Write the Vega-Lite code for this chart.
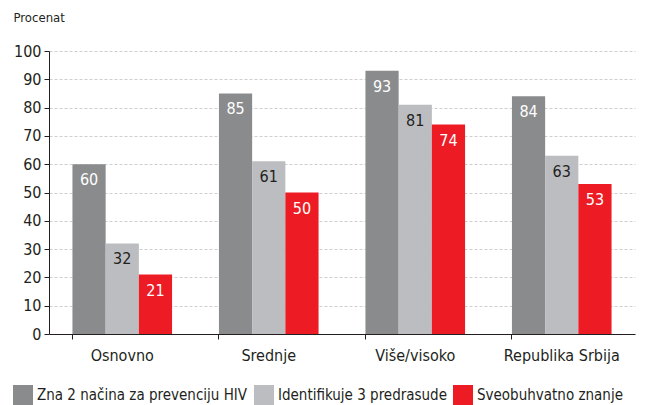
{
  "$schema": "https://vega.github.io/schema/vega-lite/v6.json",
  "width": 586,
  "height": 283,
  "autosize": {"type": "none"},
  "padding": {"left": 49, "top": 51, "right": 11, "bottom": 71},
  "background": "white",
  "config": {
    "font": "'DejaVu Sans Condensed', 'Open Sans', sans-serif",
    "view": {"stroke": null}
  },
  "data": {
    "values": [
      {"g": "Osnovno", "s": "Zna 2 načina za prevenciju HIV", "v": 60},
      {"g": "Osnovno", "s": "Identifikuje 3 predrasude", "v": 32},
      {"g": "Osnovno", "s": "Sveobuhvatno znanje", "v": 21},
      {"g": "Srednje", "s": "Zna 2 načina za prevenciju HIV", "v": 85},
      {"g": "Srednje", "s": "Identifikuje 3 predrasude", "v": 61},
      {"g": "Srednje", "s": "Sveobuhvatno znanje", "v": 50},
      {"g": "Više/visoko", "s": "Zna 2 načina za prevenciju HIV", "v": 93},
      {"g": "Više/visoko", "s": "Identifikuje 3 predrasude", "v": 81},
      {"g": "Više/visoko", "s": "Sveobuhvatno znanje", "v": 74},
      {"g": "Republika Srbija", "s": "Zna 2 načina za prevenciju HIV", "v": 84},
      {"g": "Republika Srbija", "s": "Identifikuje 3 predrasude", "v": 63},
      {"g": "Republika Srbija", "s": "Sveobuhvatno znanje", "v": 53}
    ]
  },
  "encoding": {
    "x": {
      "field": "g", "type": "nominal", "sort": null,
      "scale": {"paddingInner": 0.32, "paddingOuter": 0.16},
      "axis": {
        "title": null, "labelAngle": 0, "labelFontSize": 16, "labelColor": "#231f20",
        "labelPadding": 8, "domainColor": "#231f20", "tickColor": "#231f20",
        "tickSize": 5, "bandPosition": 0, "grid": false
      }
    },
    "xOffset": {"field": "s", "type": "nominal", "sort": ["Zna 2 načina za prevenciju HIV", "Identifikuje 3 predrasude", "Sveobuhvatno znanje"], "scale": {"paddingInner": 0, "paddingOuter": 0}},
    "y": {
      "field": "v", "type": "quantitative",
      "scale": {"domain": [0, 100], "nice": false},
      "axis": {
        "title": "Procenat", "titleAngle": 0, "titleAlign": "left", "titleBaseline": "middle",
        "titleX": -36, "titleY": -34, "titleFontSize": 13, "titleFontWeight": "normal", "titleColor": "#231f20",
        "values": [0,10,20,30,40,50,60,70,80,90,100], "labelOverlap": false,
        "labelFontSize": 16, "labelColor": "#231f20", "labelPadding": 3,
        "domainColor": "#231f20", "tickColor": "#231f20", "tickSize": 5,
        "grid": true, "gridColor": "#cfcfcf", "gridDash": [3, 2]
      }
    }
  },
  "layer": [
    {
      "mark": {"type": "bar"},
      "encoding": {
        "color": {
          "field": "s", "type": "nominal",
          "sort": ["Zna 2 načina za prevenciju HIV", "Identifikuje 3 predrasude", "Sveobuhvatno znanje"],
          "scale": {"domain": ["Zna 2 načina za prevenciju HIV", "Identifikuje 3 predrasude", "Sveobuhvatno znanje"], "range": ["#8a8b8d", "#bcbdc0", "#ed1c24"]},
          "legend": {
            "title": null, "orient": "none", "direction": "horizontal",
            "legendX": -36, "legendY": 334,
            "symbolType": "square", "symbolSize": 400, "symbolStrokeWidth": 0,
            "labelFontSize": 15, "labelColor": "#231f20", "labelOffset": 4,
            "columnPadding": 6, "labelLimit": 400
          }
        }
      }
    },
    {
      "mark": {"type": "text", "baseline": "middle", "dy": 16, "fontSize": 16},
      "encoding": {
        "text": {"field": "v", "type": "quantitative"},
        "color": {
          "condition": {"test": "datum.s === 'Identifikuje 3 predrasude'", "value": "#231f20"},
          "value": "white"
        }
      }
    }
  ]
}
